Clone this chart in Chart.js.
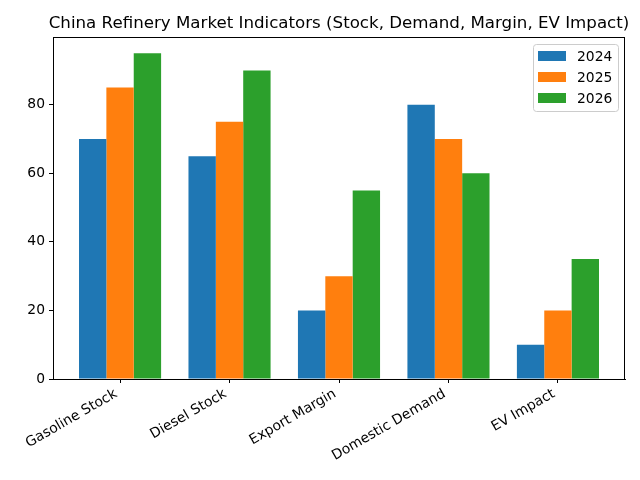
<!DOCTYPE html>
<html>
<head>
<meta charset="utf-8">
<script src="https://cdn.jsdelivr.net/npm/chart.js@4"></script>
<style>
html,body{margin:0;padding:0;background:#fff;}
#wrap{width:640px;height:480px;position:relative;}
</style>
</head>
<body>
<div id="wrap"><canvas id="c" width="640" height="480"></canvas></div>
<script>
const categories = ["Gasoline Stock", "Diesel Stock", "Export Margin", "Domestic Demand", "EV Impact"];
const seriesNames = ["2024", "2025", "2026"];
const values2024 = [70, 65, 20, 80, 10];
const values2025 = [85, 75, 30, 70, 20];
const values2026 = [95, 90, 55, 60, 35];
const yTicks = [0, 20, 40, 60, 80];
const colors = ["#1f77b4", "#ff7f0e", "#2ca02c"];
const titleText = "China Refinery Market Indicators (Stock, Demand, Margin, EV Impact)";

const allSeries = [values2024, values2025, values2026];
const FONT = "'DejaVu Sans', sans-serif";

const datasets = allSeries.map((vals, i) => ({
  label: seriesNames[i],
  data: vals.map((v, j) => ({x: j, y: v})),
  backgroundColor: colors[i],
  borderWidth: 0,
  inflateAmount: 0,
  categoryPercentage: 0.75,
  barPercentage: 1.0
}));

const titlePlugin = {
  id: 'mplTitle',
  afterDraw(chart) {
    const ctx = chart.ctx, a = chart.chartArea;
    ctx.save();
    ctx.font = "16.67px " + FONT;
    ctx.fillStyle = "#000";
    ctx.textAlign = "center";
    ctx.textBaseline = "alphabetic";
    ctx.fillText(titleText, (a.left + a.right) / 2, 28);
    // axes frame
    ctx.strokeStyle = "#000";
    ctx.lineWidth = 1;
    ctx.strokeRect(Math.round(a.left) + 0.5, Math.round(a.top) + 0.5, Math.round(a.right - a.left) - 1, Math.round(a.bottom - a.top));
    // rotated x tick labels (matplotlib style: ha=right, va=top, rotation 30)
    const xs = chart.scales.x;
    ctx.font = "13.89px " + FONT;
    ctx.fillStyle = "#000";
    const ang = 30 * Math.PI / 180;
    const h = 16;
    categories.forEach((lab, i) => {
      const w = ctx.measureText(lab).width;
      const W = w * Math.cos(ang) + h * Math.sin(ang);
      const H = w * Math.sin(ang) + h * Math.cos(ang);
      const tx = xs.getPixelForValue(i);
      const ty = a.bottom + 7;
      ctx.save();
      ctx.translate(tx - W / 2, ty + H / 2);
      ctx.rotate(-ang);
      ctx.textAlign = "center";
      ctx.textBaseline = "middle";
      ctx.fillText(lab, 0, 0);
      ctx.restore();
    });
    // legend
    const bx = a.right - 92, by = a.top + 7, bw = 85, bh = 67;
    ctx.fillStyle = "rgba(255,255,255,0.8)";
    ctx.strokeStyle = "#cccccc";
    ctx.lineWidth = 1;
    ctx.beginPath();
    if (ctx.roundRect) ctx.roundRect(bx + 0.5, by + 0.5, bw, bh, 3); else ctx.rect(bx + 0.5, by + 0.5, bw, bh);
    ctx.fill();
    ctx.stroke();
    ctx.font = "13.89px " + FONT;
    ctx.textAlign = "left";
    ctx.textBaseline = "middle";
    seriesNames.forEach((name, i) => {
      const cy = by + 12 + i * 21;
      ctx.fillStyle = colors[i];
      ctx.fillRect(bx + 5, cy - 5, 28, 10);
      ctx.fillStyle = "#000";
      ctx.fillText(name, bx + 44, cy + 1);
    });
    ctx.restore();
  }
};

new Chart(document.getElementById('c'), {
  type: 'bar',
  data: { datasets },
  plugins: [titlePlugin],
  options: {
    responsive: false,
    animation: false,
    devicePixelRatio: 1,
    layout: { padding: { top: 37, right: 15, left: 0, bottom: 0 } },
    plugins: { legend: { display: false }, tooltip: { enabled: false }, title: { display: false } },
    scales: {
      x: {
        type: 'linear',
        min: -0.6125,
        max: 4.6125,
        offset: false,
        afterBuildTicks(scale) { scale.ticks = categories.map((c, i) => ({value: i})); },
        afterFit(scale) { scale.height = 101; },
        ticks: {
          autoSkip: false,
          maxRotation: 0,
          color: "rgba(0,0,0,0)",
          font: { family: FONT, size: 13.89 },
          callback() { return ''; }
        },
        grid: { display: true, offset: false, drawOnChartArea: false, drawTicks: true, tickLength: 4, color: "#000", tickColor: "#000" },
        border: { display: true, color: "#000" }
      },
      y: {
        min: 0,
        max: 99.75,
        afterBuildTicks(scale) { scale.ticks = yTicks.map(v => ({value: v})); },
        afterFit(scale) { scale.width = 53; },
        ticks: {
          color: "#000",
          font: { family: FONT, size: 13.89 },
          padding: 4
        },
        grid: { display: true, drawOnChartArea: false, drawTicks: true, tickLength: 4, color: "#000", tickColor: "#000" },
        border: { display: true, color: "#000" }
      }
    }
  }
});
</script>
</body>
</html>
